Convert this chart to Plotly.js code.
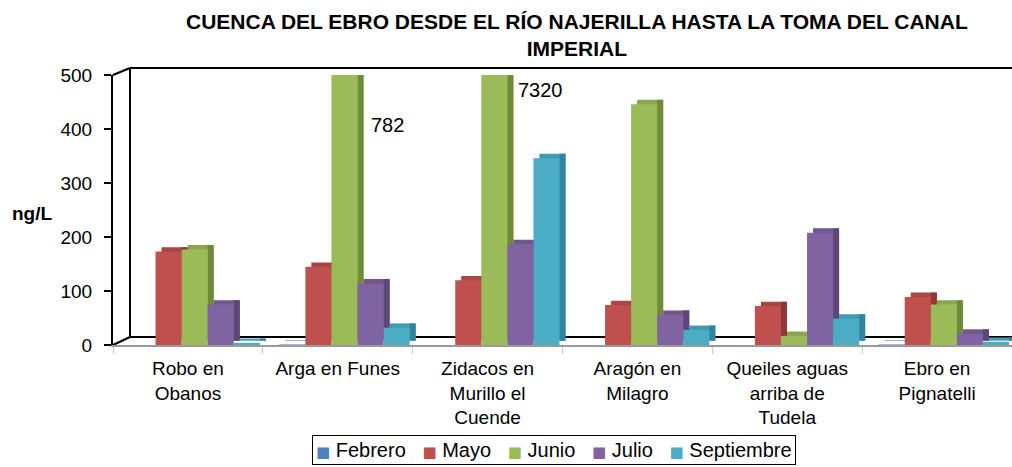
<!DOCTYPE html>
<html>
<head>
<meta charset="utf-8">
<script src="https://cdn.plot.ly/plotly-3.0.1.min.js"></script>
<style>html,body{margin:0;padding:0;background:#fff;}#chart{width:1012px;height:467px;}</style>
</head>
<body>
<div id="chart"></div>
<script>
const categories = ['Robo en<br>Obanos', 'Arga en Funes', 'Zidacos en<br>Murillo el<br>Cuende', 'Aragón en<br>Milagro', 'Queiles aguas<br>arriba de<br>Tudela', 'Ebro en<br>Pignatelli'];
const seriesNames = ['Febrero', 'Mayo', 'Junio', 'Julio', 'Septiembre'];
const febrero = [0, 1, 0, 0, 0, 1];
const mayo = [173, 145, 120, 74, 72, 89];
const junio = [177, 782, 7320, 446, 17, 75];
const julio = [75, 114, 187, 56, 208, 21];
const septiembre = [4, 32, 346, 28, 49, 6];
const yTicks = [0, 100, 200, 300, 400, 500];
const chartTitle = 'CUENCA DEL EBRO DESDE EL RÍO NAJERILLA HASTA LA TOMA DEL CANAL<br>IMPERIAL';
const yTitle = 'ng/L';

const seriesValues = [febrero, mayo, junio, julio, septiembre];
const frontColors = ['#4F81BD', '#C0504D', '#9BBB59', '#8064A2', '#4BACC6'];
const topColors = ['#4673A8', '#A94542', '#89A64E', '#70578F', '#3F9AB2'];
const sideColors = ['#385D8A', '#8C3836', '#6E8A3A', '#5C4776', '#31849B'];

const FONT = 'Liberation Sans, Arial, sans-serif';
const barW = 0.174;
const startOff = -0.39;
const depthX = 0.04;
const depthY = 8;

// pixel helpers for paper coords (plot area: x 113..1012, y 75..345)
const L = 113, R = 0, T = 75, B = 122, W = 1012, H = 467;
const pw = W - L - R, ph = H - T - B;
const px = x => (x - L) / pw;
const py = y => (H - B - y) / ph;

const traces = [];
// top faces
seriesValues.forEach((vals, i) => {
  traces.push({
    type: 'bar', x: categories, y: vals, base: depthY,
    width: barW, offset: startOff + i * barW + depthX,
    marker: {color: topColors[i], line: {width: 0}},
    showlegend: false, hoverinfo: 'skip', name: seriesNames[i] + ' top'
  });
});
// side faces
seriesValues.forEach((vals, i) => {
  traces.push({
    type: 'bar', x: categories, y: vals, base: depthY,
    width: depthX, offset: startOff + (i + 1) * barW,
    marker: {color: sideColors[i], line: {width: 0}},
    showlegend: false, hoverinfo: 'skip', name: seriesNames[i] + ' side'
  });
});
// front faces
seriesValues.forEach((vals, i) => {
  traces.push({
    type: 'bar', x: categories, y: vals,
    width: barW, offset: startOff + i * barW,
    marker: {color: frontColors[i], line: {width: 0}},
    name: seriesNames[i], showlegend: false
  });
});

const frame = {type: 'line', xref: 'paper', yref: 'paper', layer: 'below', line: {color: '#000', width: 2}};
const bx = px(130), bt = py(68), bb = py(337);

const legendText = seriesNames.map((n, i) =>
  '<span style="color:' + frontColors[i] + ';font-size:15px;font-family:DejaVu Sans">\u25A0</span>\u00A0' + n
).join('\u00A0\u00A0\u00A0');

const layout = {
  width: W, height: H,
  margin: {l: L, r: R, t: T, b: B, autoexpand: false},
  paper_bgcolor: '#fff', plot_bgcolor: 'rgba(0,0,0,0)',
  font: {family: FONT, color: '#000'},
  barmode: 'overlay',
  showlegend: false,
  xaxis: {
    type: 'category', range: [-0.5, 5.5], showgrid: false,
    showline: true, linecolor: '#9a9a9a', linewidth: 2,
    ticks: 'outside', tickson: 'boundaries', ticklen: 7, tickcolor: '#c8c8c8', tickwidth: 1,
    tickfont: {size: 19, family: FONT, color: '#000'},
    ticklabelstandoff: 5,
    fixedrange: true
  },
  yaxis: {
    range: [0, 500], tickvals: yTicks, ticktext: yTicks.map(String),
    showgrid: false, zeroline: false,
    showline: true, linecolor: '#000', linewidth: 2,
    ticks: 'outside', ticklen: 7, tickcolor: '#000', tickwidth: 2,
    tickfont: {size: 19, family: FONT, color: '#000'},
    ticklabelstandoff: 8,
    fixedrange: true
  },
  shapes: [
    Object.assign({x0: bx, y0: bt, x1: 1, y1: bt}, frame),
    Object.assign({x0: bx, y0: bb, x1: bx, y1: bt}, frame),
    Object.assign({x0: bx, y0: bb, x1: 1, y1: bb}, frame),
    Object.assign({x0: 0, y0: 1, x1: bx, y1: bt}, frame),
    Object.assign({x0: 0, y0: 0, x1: bx, y1: bb}, frame)
  ],
  annotations: [
    {text: '<b>' + chartTitle + '</b>', x: px(577), y: py(8), xref: 'paper', yref: 'paper',
     xanchor: 'center', yanchor: 'top', showarrow: false, align: 'center',
     font: {size: 21, family: FONT, color: '#000'}},
    {text: String(junio[1]), x: 1.33, y: 407, xref: 'x', yref: 'y', showarrow: false,
     font: {size: 20, family: FONT, color: '#000'}},
    {text: String(junio[2]), x: 2.35, y: 472, xref: 'x', yref: 'y', showarrow: false,
     font: {size: 20, family: FONT, color: '#000'}},
    {text: '<b>' + yTitle + '</b>', x: px(32), y: py(213), xref: 'paper', yref: 'paper',
     xanchor: 'center', yanchor: 'middle', showarrow: false,
     font: {size: 19, family: FONT, color: '#000'}},
    {text: legendText, x: px(554), y: py(435), xref: 'paper', yref: 'paper',
     xanchor: 'center', yanchor: 'top', showarrow: false,
     bordercolor: '#000', borderwidth: 1, borderpad: 3, bgcolor: '#fff',
     font: {size: 20, family: FONT, color: '#000'}}
  ]
};

Plotly.newPlot('chart', traces, layout, {displayModeBar: false, staticPlot: true});
</script>
</body>
</html>
